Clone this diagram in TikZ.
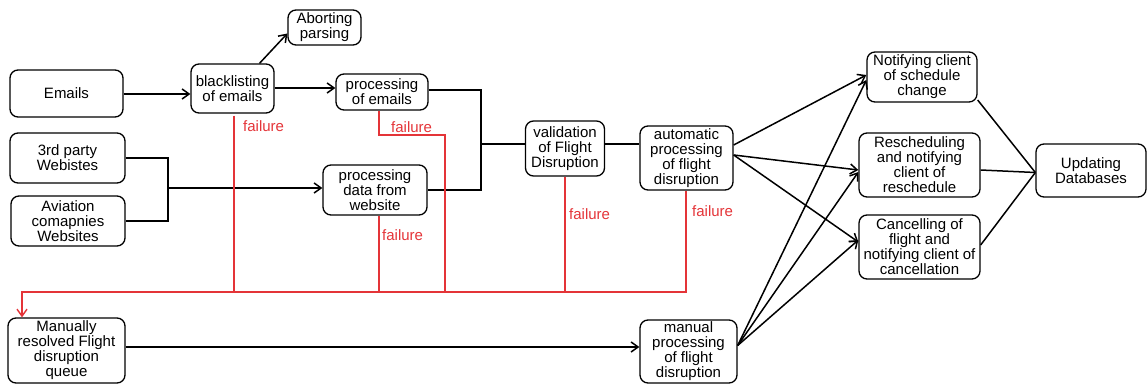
\documentclass[tikz,border=0pt]{standalone}
\usepackage{fontspec}
\setmainfont{Liberation Sans}
\usetikzlibrary{calc,arrows.meta}
\definecolor{failred}{RGB}{228,52,56}
\begin{document}
\begin{tikzpicture}[x=1pt,y=-1pt,
  box/.style={draw, line width=1.3pt, rounded corners=8pt, align=center, inner sep=1pt,
    font=\fontsize{15}{15}\selectfont},
  conn/.style={line width=1.5pt},
  arr/.style={line width=1.5pt, -{Straight Barb[length=7pt,width=10pt]}},
  fail/.style={line width=1.4pt, failred},
  flab/.style={text=failred, font=\fontsize{15}{15}\selectfont, inner sep=0pt, anchor=west}]
\useasboundingbox (0,0) rectangle (1147,385);
\node[box, minimum width=113, minimum height=47] (emails) at (66.5,93.5) {Emails};
\node[box, minimum width=83, minimum height=49] (black) at (232.5,88.5) {blacklisting\\of emails};
\node[box, minimum width=73, minimum height=35] (abort) at (324.5,27.5) {Aborting\\parsing};
\node[box, minimum width=92, minimum height=36] (procE) at (382,92) {processing\\of emails};
\node[box, minimum width=115, minimum height=50] (web3) at (67.5,158) {3rd party\\Webistes};
\node[box, minimum width=114, minimum height=50] (avia) at (68,221) {Aviation\\comapnies\\Websites};
\node[box, minimum width=104, minimum height=50] (procW) at (375,190) {processing\\data from\\website};
\node[box, minimum width=79, minimum height=55] (valid) at (565,148.5) {validation\\of Flight\\Disruption};
\node[box, minimum width=93, minimum height=64] (auto) at (686.5,158) {automatic\\processing\\of flight\\disruption};
\node[box, minimum width=110, minimum height=50] (notif) at (922,77) {Notifying client\\of schedule\\change};
\node[box, minimum width=121, minimum height=64] (resch) at (919.5,165) {Rescheduling\\and notifying\\client of\\reschedule};
\node[box, minimum width=121, minimum height=64] (cancel) at (919.5,247) {Cancelling of\\flight and\\notifying client of\\cancellation};
\node[box, minimum width=110, minimum height=53] (update) at (1091,170.5) {Updating\\Databases};
\node[box, minimum width=97, minimum height=63] (manp) at (688.5,351.5) {manual\\processing\\of flight\\disruption};
\node[box, minimum width=117, minimum height=65] (manq) at (66.5,350.5) {Manually\\resolved Flight\\disruption\\queue};
% black connectors
\draw[arr] ([yshift=-0.5pt]emails.east) -- ([yshift=-0.5pt]emails.east -| black.west);
\draw[arr] ([yshift=0.5pt]black.east) -- ([yshift=0.5pt]black.east -| procE.west);
\draw[arr] ([xshift=27pt]black.north) -- ([yshift=-6pt]abort.west);
\coordinate (br) at (168,188);
\draw[conn] (web3.east) -| (br) |- (avia.east);
\draw[arr] (br) -- (br -| procW.west);
\coordinate (mj) at (481,144);
\draw[conn] ([yshift=2pt]procE.east) -| (mj) |- (procW.east);
\draw[conn] (mj) -- (mj -| valid.west);
\draw[conn] (valid.east |- mj) -- (mj -| auto.west);
\coordinate (ao1) at ($(auto.east)+(0,-13)$);
\coordinate (ao2) at ($(auto.east)+(0,-3)$);
\draw[arr] (ao1) -- ([yshift=2pt]notif.west);
\draw[arr] (ao2) -- ([yshift=-5pt]resch.west);
\draw[arr] (ao2) -- ([yshift=5pt]cancel.west);
\coordinate (mo) at ($(manp.east)+(0,-6)$);
\draw[arr] (mo) -- ([yshift=-3pt]notif.west);
\draw[arr] (mo) -- ([yshift=-7pt]resch.west);
\draw[arr] (mo) -- ([yshift=7pt]cancel.west);
\coordinate (uj) at ($(update.west)+(0,2)$);
\draw[conn] ([yshift=-23pt]notif.east) -- (uj);
\draw[conn] ([yshift=-5pt]resch.east) -- (uj);
\draw[conn] ([yshift=2pt]cancel.east) -- (uj);
\draw[arr] ([yshift=3.5pt]manq.east) -- ([yshift=3.5pt]manq.east -| manp.west);
% failure lines
\coordinate (bus) at (0,292);
\coordinate (pe) at (445,135);
\draw[fail] ([xshift=1.5pt,yshift=-2pt]black.south) -- ([xshift=1.5pt]black.south |- bus);
\draw[fail] ([xshift=-3pt]procE.south) |- (pe) -- (pe |- bus);
\draw[fail] ([xshift=4pt]procW.south) -- ([xshift=4pt]procW.south |- bus);
\draw[fail] (valid.south) -- (valid.south |- bus);
\draw[fail] ([xshift=-0.5pt]auto.south) -- ([xshift=-0.5pt]auto.south |- bus) -- ([xshift=-44.5pt]manq.north |- bus)
  [-{Straight Barb[length=7pt,width=10pt]}] -- ([xshift=-44.5pt]manq.north);
\node[flab] (f1) at (243,126) {failure};
\node[flab] (f2) at (391,127) {failure};
\node[flab] (f3) at (382,235) {failure};
\node[flab] (f4) at (569,214) {failure};
\node[flab] (f5) at (692,211) {failure};
\end{tikzpicture}
\end{document}
